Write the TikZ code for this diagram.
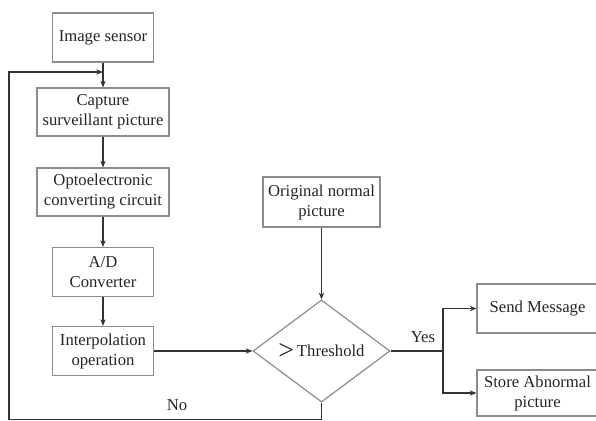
\documentclass[tikz,border=0pt]{standalone}
\usepackage{fontspec}
\setmainfont{Liberation Serif}
\usetikzlibrary{shapes.geometric,arrows.meta}
\begin{document}
\begin{tikzpicture}[x=0.75pt,y=-0.75pt,
  box/.style={draw=black!45, line width=0.9pt, rectangle, align=center,
    inner sep=0pt, font=\fontsize{12.5}{15}\selectfont, text=black!85},
  decision/.style={draw=black!45, line width=0.9pt, diamond, inner sep=0pt,
    font=\fontsize{12.5}{15}\selectfont, text=black!85},
  lbl/.style={font=\fontsize{12.5}{15}\selectfont, text=black!85, inner sep=0pt},
  flow/.style={draw=black!80, line width=1.2pt, -{Stealth[length=5pt,width=4pt]}},
  wire/.style={draw=black!80, line width=1.2pt}]
\useasboundingbox[fill=white] (0,0) rectangle (596,421);
\clip (0,0) rectangle (596,421);

% processing chain on the left
\node[box, minimum width=75.75pt, minimum height=36.75pt] (img) at (103,37.5) {Image sensor};
\node[box, minimum width=99pt, minimum height=36pt] (cap) at (103,112) {Capture\\surveillant picture};
\node[box, minimum width=99pt, minimum height=36pt] (opto) at (103,192) {Optoelectronic\\converting circuit};
\node[box, minimum width=75.75pt, minimum height=36.75pt] (adc) at (103,272) {A/D\\Converter};
\node[box, minimum width=75.75pt, minimum height=36.75pt] (interp) at (103,351) {Interpolation\\operation};

% reference picture and comparison
\node[box, minimum width=87.75pt, minimum height=37.5pt] (orig) at (321.5,202) {Original normal\\picture};
\node[decision, minimum width=102.75pt, minimum height=66.75pt] (dia) at (321.5,351)
  {\raisebox{-2.2pt}{\fontsize{21}{21}\selectfont >}\,Threshold};

% actions on the right
\node[box, minimum width=90.75pt, minimum height=36.75pt] (send) at (537.5,308.5) {Send Message};
\node[box, minimum width=90.75pt, minimum height=34.5pt] (store) at (537.5,393) {Store Abnormal\\picture};

% labels
\node[lbl] (yes) at (423,337) {Yes};
\node[lbl] (no) at (177,405) {No};

% chain arrows
\draw[flow] (img.south) -- (cap.north);
\draw[flow] (cap.south) -- (opto.north);
\draw[flow] (opto.south) -- (adc.north);
\draw[flow] (adc.south) -- (interp.north);
\draw[flow] (interp.east) -- (dia.west);
\draw[flow] (orig.south) -- (dia.north);

% yes branch
\coordinate (split) at (443,351);
\draw[wire] (dia.east) -- (split);
\draw[flow] (split) |- (send.west);
\draw[flow] (split) |- (store.west);

% no branch: loop back to the capture step
\coordinate (lowright) at (321.5,419.5);
\coordinate (lowleft) at (9,419.5);
\coordinate (upleft) at (9,72);
\coordinate (join) at (103,72);
\draw[flow] (dia.south) -- (lowright) -- (lowleft) -- (upleft) -- (join);
\end{tikzpicture}
\end{document}
